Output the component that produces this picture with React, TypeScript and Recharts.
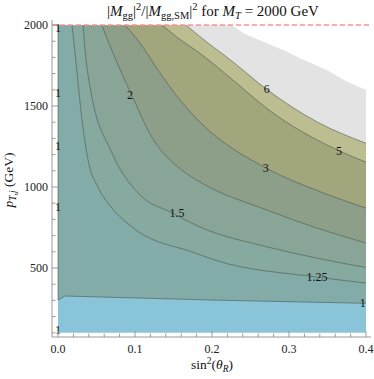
import { Area, ComposedChart, ReferenceLine, Scatter, XAxis, YAxis } from 'recharts'

// contour lines: x = sin^2(theta_R), pT in GeV
const oneS = [0, 0, 0.009, 0.1, 0.2, 0.3, 0.4]
const onePt = [2000, 302, 327, 315, 302, 292, 282]
const c125S = [0.0182, 0.0221, 0.0312, 0.039, 0.0519, 0.0701, 0.0961, 0.1779, 0.2039, 0.3364, 0.4]
const c125Pt = [2000, 1827, 1414, 1167, 1000, 870, 753, 593, 549, 444, 407]
const c15S = [0.0325, 0.0351, 0.0416, 0.0701, 0.1039, 0.1481, 0.1844, 0.271, 0.3351, 0.4]
const c15Pt = [2000, 1846, 1617, 1210, 963, 840, 753, 631, 562, 503]
const c2S = [0.0568, 0.0714, 0.0957, 0.1217, 0.1606, 0.1844, 0.271, 0.336, 0.4]
const c2Pt = [2000, 1827, 1568, 1309, 1105, 1031, 858, 747, 654]
const c3S = [0.087, 0.1065, 0.1299, 0.1584, 0.1844, 0.2701, 0.3351, 0.4]
const c3Pt = [2000, 1889, 1722, 1537, 1401, 1117, 981, 870]
const c5S = [0.1351, 0.1542, 0.1844, 0.2273, 0.271, 0.3649, 0.4]
const c5Pt = [2000, 1926, 1825, 1660, 1486, 1224, 1154]
const c6S = [0.1662, 0.1844, 0.2273, 0.271, 0.336, 0.4]
const c6Pt = [2000, 1928, 1772, 1603, 1403, 1270]
// where the computed region stops (white above)
const edgeS = [0.2256, 0.2407, 0.2667, 0.297, 0.3143, 0.349, 0.3749, 0.4]
const edgePt = [2000, 1949, 1897, 1836, 1795, 1723, 1651, 1599]
const floorS = [0, 0.4]
const floorPt = [100, 100]

const labelText = ['1', '1', '1', '1', '1', '2', '1.5', '3', '5', '6', '1.25', '1']
const labelS = [0, 0, 0, 0, 0, 0.0935, 0.1545, 0.2697, 0.365, 0.271, 0.3364, 0.3957]
const labelPt = [1981, 1580, 1253, 878, 117, 1568, 840, 1117, 1224, 1603, 444, 286]

const xTicks = [0, 0.02, 0.04, 0.06, 0.08, 0.1, 0.12, 0.14, 0.16, 0.18, 0.2, 0.22, 0.24, 0.26, 0.28, 0.3, 0.32, 0.34, 0.36, 0.38, 0.4]
const yTicks = [100, 200, 300, 400, 500, 600, 700, 800, 900, 1000, 1100, 1200, 1300, 1400, 1500, 1600, 1700, 1800, 1900, 2000]

const zip = (s: number[], p: number[]) => s.map((v, i) => ({ s: v, pT: p[i] }))
const labels = labelText.map((t, i) => ({ s: labelS[i], pT: labelPt[i], text: t }))

const bands = [
  { key: 'floor', data: zip(floorS, floorPt), fill: '#8ac4d8', line: false, type: 'linear' },
  { key: 'one', data: zip(oneS, onePt), fill: '#83aba7', line: true, type: 'linear' },
  { key: 'c125', data: zip(c125S, c125Pt), fill: '#86a9a0', line: true, type: 'monotone' },
  { key: 'c15', data: zip(c15S, c15Pt), fill: '#89a597', line: true, type: 'monotone' },
  { key: 'c2', data: zip(c2S, c2Pt), fill: '#8d9f88', line: true, type: 'monotone' },
  { key: 'c3', data: zip(c3S, c3Pt), fill: '#a2a67c', line: true, type: 'monotone' },
  { key: 'c5', data: zip(c5S, c5Pt), fill: '#bcbd90', line: true, type: 'monotone' },
  { key: 'c6', data: zip(c6S, c6Pt), fill: '#e3e3e3', line: true, type: 'monotone' },
  { key: 'edge', data: zip(edgeS, edgePt), fill: '#ffffff', line: false, type: 'linear' },
]

const font = '"Liberation Serif", "Times New Roman", serif'
const frame = '#9a9a9a'
const isMajorX = (v: number) => Math.abs(v * 10 - Math.round(v * 10)) < 1e-6
const isMajorY = (v: number) => v % 500 === 0

const BottomTick = ({ x, y, payload }: any) => {
  const major = isMajorX(payload.value)
  return (
    <g>
      <line x1={x} x2={x} y1={y} y2={y - (major ? 6 : 3.5)} stroke={frame} />
      {major && (
        <text x={x} y={y + 16} textAnchor="middle" fontSize={12} fontFamily={font} fill="#222">
          {payload.value.toFixed(1)}
        </text>
      )}
    </g>
  )
}

const TopTick = ({ x, y, payload }: any) => (
  <line x1={x} x2={x} y1={y} y2={y + (isMajorX(payload.value) ? 6 : 3.5)} stroke={frame} />
)

const LeftTick = ({ x, y, payload }: any) => {
  const major = isMajorY(payload.value)
  return (
    <g>
      <line x1={x} x2={x + (major ? 6 : 3.5)} y1={y} y2={y} stroke={frame} />
      {major && (
        <text x={x - 4} y={y + 4} textAnchor="end" fontSize={12} fontFamily={font} fill="#222">
          {payload.value}
        </text>
      )}
    </g>
  )
}

const RightTick = ({ x, y, payload }: any) => (
  <line x1={x} x2={x - (isMajorY(payload.value) ? 6 : 3.5)} y1={y} y2={y} stroke={frame} />
)

const ContourLabel = (p: any) => (
  <text x={p.cx} y={p.cy + 4} textAnchor="middle" fontSize={12} fontFamily={font} fill="#111">
    {p.payload.text}
  </text>
)

const sub = { fontSize: 10.5, verticalAlign: '-3px' } as const
const sup = { fontSize: 10.5, verticalAlign: '6px' } as const
const axSub = { fontSize: 9.5, verticalAlign: '-3px' } as const
const axSup = { fontSize: 9.5, verticalAlign: '5px' } as const

export default function App() {
  return (
    <div style={{ position: 'absolute', left: 0, top: 0, width: 374, height: 379, background: '#fff', fontFamily: font, color: '#111', lineHeight: 1 }}>
      <ComposedChart width={374} height={379} margin={{ top: 20, right: 3, bottom: 0, left: 4 }}>
        <XAxis dataKey="s" type="number" domain={[-0.0078, 0.4065]} allowDataOverflow ticks={xTicks} interval={0}
          height={42} tickSize={0} tickMargin={0} tickLine={false} axisLine={{ stroke: frame }} tick={BottomTick} />
        <XAxis xAxisId="top" orientation="top" dataKey="s" type="number" domain={[-0.0078, 0.4065]} allowDataOverflow
          ticks={xTicks} interval={0} height={0} tickSize={0} tickMargin={0} tickLine={false} axisLine={{ stroke: frame }} tick={TopTick} />
        <YAxis type="number" domain={[74, 2031]} allowDataOverflow ticks={yTicks} interval={0} width={48}
          tickSize={0} tickMargin={0} tickLine={false} axisLine={{ stroke: frame }} tick={LeftTick} />
        <YAxis yAxisId="right" orientation="right" type="number" domain={[74, 2031]} allowDataOverflow ticks={yTicks}
          interval={0} width={0} tickSize={0} tickMargin={0} tickLine={false} axisLine={{ stroke: frame }} tick={RightTick} />
        {bands.map((b) => (
          <Area key={b.key} data={b.data} dataKey="pT" type={b.type as any} baseValue={2000} fill={b.fill} fillOpacity={1}
            stroke={b.line ? '#4b5850' : 'none'} strokeOpacity={0.75} strokeWidth={0.8} dot={false} activeDot={false}
            isAnimationActive={false} />
        ))}
        <ReferenceLine y={2000} stroke="#ff9090" strokeWidth={1.5} strokeDasharray="5 3" />
        <Scatter data={labels} dataKey="pT" shape={ContourLabel} isAnimationActive={false} />
      </ComposedChart>
      <div style={{ position: 'absolute', left: 213, top: 2, transform: 'translateX(-50%)', whiteSpace: 'nowrap', fontSize: 15 }}>
        |<i>M</i><span style={sub}>gg</span>|<span style={sup}>2</span>/|<i>M</i><span style={sub}>gg,SM</span>|<span style={sup}>2</span> for <i>M</i><span style={sub}><i>T</i></span> = 2000 GeV
      </div>
      <div style={{ position: 'absolute', left: 10, top: 180, transform: 'translate(-50%, -50%) rotate(-90deg)', whiteSpace: 'nowrap', fontSize: 13.5 }}>
        <i>p</i><span style={axSub}><i>T</i>,<i>j</i></span> (GeV)
      </div>
      <div style={{ position: 'absolute', left: 212, top: 366, transform: 'translate(-50%, -50%)', whiteSpace: 'nowrap', fontSize: 13.5 }}>
        sin<span style={axSup}>2</span>(<i>θ</i><span style={axSub}><i>R</i></span>)
      </div>
    </div>
  )
}
